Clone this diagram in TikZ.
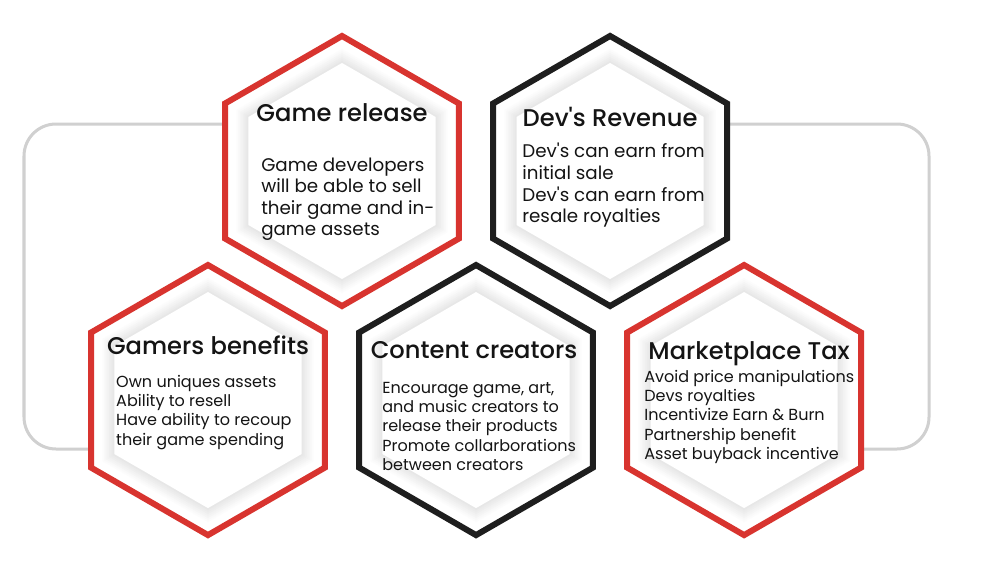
\documentclass[tikz,border=0pt]{standalone}
\usepackage{fontspec}
\setmainfont{Poppins}
\newfontfamily\headfont{Poppins Medium}
\newfontfamily\bodyfont{Poppins}
\usepackage{tikz}
\usetikzlibrary{shapes.geometric,positioning,backgrounds}

\definecolor{hexred}{RGB}{216,52,47}
\definecolor{hexblack}{RGB}{30,30,30}
\definecolor{framegray}{RGB}{208,208,208}
\definecolor{inkblack}{RGB}{20,20,20}

\newcommand{\hshim}{6.7cm}
\newcommand{\vshim}{5.725cm}
\newcommand{\hexsize}{6.75cm}
\newcommand{\htitle}[1]{{\headfont\fontsize{17.2}{20}\selectfont #1}}
\newcommand{\bigbody}[1]{\parbox[t]{5.2cm}{\raggedright\bodyfont\fontsize{13}{15.4}\selectfont #1}}
\newcommand{\smallbody}[1]{\parbox[t]{5.8cm}{\raggedright\bodyfont\fontsize{11.4}{13.8}\selectfont #1}}

\tikzset{
  hexshade/.style={regular polygon, regular polygon sides=6
                  ,shape border rotate=30, inner sep=0pt, outer sep=0pt},
  hexagon/.style={hexshade, minimum size=\hexsize, fill=white
                 ,line width=0.15cm, line join=miter},
  redhex/.style={hexagon, draw=hexred},
  blackhex/.style={hexagon, draw=hexblack},
  hextitle/.style={anchor=base, inner sep=0pt, text=inkblack},
  hexbody/.style={anchor=base west, inner sep=0pt, text=inkblack},
  hexframe/.style={draw=framegray, line width=0.075cm, rounded corners=0.8cm}
}

\begin{document}
\begin{tikzpicture}[x=0.025cm, y=-0.025cm, node distance=\hshim]
  \path[use as bounding box] (0,0) rectangle (1000,572);

  %% top row
  \node[redhex]   (rel)              at (342,171) {};
  \node[blackhex] (rev) [right of=rel]           {};

  %% bottom row
  \node[redhex]   (gam) [below of=rel
                        ,node distance=\vshim
                        ,xshift=-3.35cm]          {};
  \node[blackhex] (con) [right of=gam]           {};
  \node[redhex]   (mkt) [right of=con]           {};

  %% soft inner shadow
  \foreach \h in {rel,rev,gam,con,mkt}{
    \foreach \i in {0,...,6}{
      \pgfmathsetmacro\d{6.1-0.1*\i}
      \pgfmathsetmacro\g{1+1.4*\i}
      \node[hexshade, minimum size=\d cm, fill=black!\g] (\h-shade-\i) at (\h) {};
    }
    \node[hexshade, minimum size=5.4cm, fill=white] (\h-core) at (\h) {};
  }

  %% frame behind the hexagons
  \begin{scope}[on background layer]
    \fill[white] (0,0) rectangle (1000,572);
    \draw[hexframe] (rel.180 |- 0,124) -- (24,124) -- (24,449) -- (gam.180 |- 0,449);
    \draw[hexframe] (rev.0 |- 0,124) -- (929,124) -- (929,449) -- (mkt.0 |- 0,449);
  \end{scope}

  \node[hextitle] (reltitle) at (rel) [yshift=1.225cm] {\htitle{Game release}};
  \node[hexbody]  (relbody)  at (rel) [xshift=-2.025cm]
        {\bigbody{Game developers\\ will be able to sell\\ their game and in-\\ game assets}};

  \node[hextitle] (revtitle) at (rev) [yshift=1.1cm] {\htitle{Dev's Revenue}};
  \node[hexbody]  (revbody)  at (rev) [xshift=-2.2cm, yshift=0.325cm]
        {\bigbody{Dev's can earn from\\ initial sale\\ Dev's can earn from\\ resale royalties}};

  \node[hextitle] (gamtitle) at (gam) [yshift=1.15cm] {\htitle{Gamers benefits}};
  \node[hexbody]  (gambody)  at (gam) [xshift=-2.3cm, yshift=0.325cm]
        {\smallbody{Own uniques assets\\ Ability to resell\\ Have ability to recoup\\ their game spending}};

  \node[hextitle] (contitle) at (con) [xshift=-0.05cm, yshift=1.05cm] {\htitle{Content creators}};
  \node[hexbody]  (conbody)  at (con) [xshift=-2.35cm, yshift=0.175cm]
        {\smallbody{Encourage game, art,\\ and music creators to\\ release their products\\ Promote collarborations\\ between creators}};

  \node[hextitle] (mkttitle) at (mkt) [xshift=0.125cm, yshift=1.025cm] {\htitle{Marketplace Tax}};
  \node[hexbody]  (mktbody)  at (mkt) [xshift=-2.5cm, yshift=0.45cm]
        {\smallbody{Avoid price manipulations\\ Devs royalties\\ Incentivize Earn \& Burn\\ Partnership benefit\\ Asset buyback incentive}};
\end{tikzpicture}
\end{document}
